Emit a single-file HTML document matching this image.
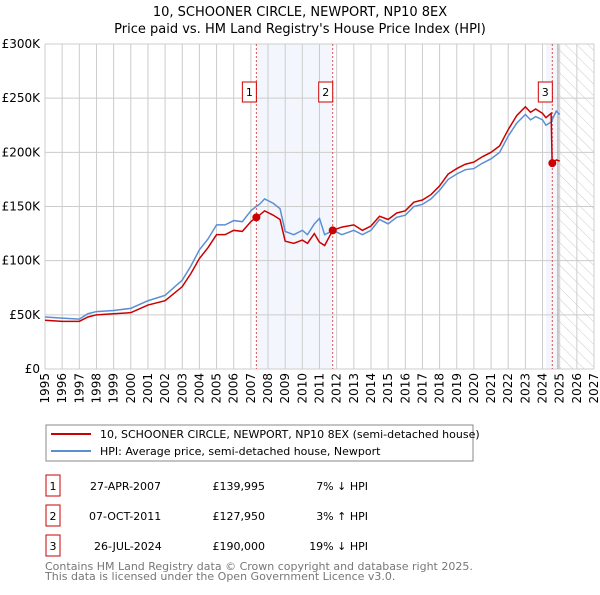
<!DOCTYPE html>
<html><head><meta charset="utf-8"><style>
body{margin:0;background:#fff;font-family:"Liberation Sans","DejaVu Sans",sans-serif;}
svg text{font-family:"DejaVu Sans","Liberation Sans",sans-serif;}
</style></head><body>
<svg id="c" width="600" height="590" xmlns="http://www.w3.org/2000/svg">
<defs><pattern id="hatch" patternUnits="userSpaceOnUse" width="8" height="8" patternTransform="rotate(-45)"><line x1="0" y1="0" x2="0" y2="8" stroke="#ccc" stroke-width="1"/></pattern></defs>
<text x="300" y="16" text-anchor="middle" font-size="13">10, SCHOONER CIRCLE, NEWPORT, NP10 8EX</text>
<text x="300" y="33" text-anchor="middle" font-size="13">Price paid vs. HM Land Registry's House Price Index (HPI)</text>
<g id="plot"></g>
<g>
<rect x="46" y="425" width="427" height="36" fill="#fff" stroke="#888"/>
<line x1="51" y1="434" x2="91" y2="434" stroke="#cc0000" stroke-width="2"/>
<text x="100" y="438" font-size="11">10, SCHOONER CIRCLE, NEWPORT, NP10 8EX (semi-detached house)</text>
<line x1="51" y1="451" x2="91" y2="451" stroke="#5b8fd4" stroke-width="2"/>
<text x="100" y="455" font-size="11">HPI: Average price, semi-detached house, Newport</text>
</g>
<g font-size="11">
<rect x="46" y="475" width="14" height="21" fill="#fff" stroke="#cc0000"/><text x="53" y="490" text-anchor="middle">1</text>
<text x="90" y="490">27-APR-2007</text><text x="265" y="490" text-anchor="end">£139,995</text><text x="368" y="490" text-anchor="end">7% ↓ HPI</text>
<rect x="46" y="505" width="14" height="21" fill="#fff" stroke="#cc0000"/><text x="53" y="520" text-anchor="middle">2</text>
<text x="89" y="520">07-OCT-2011</text><text x="265" y="520" text-anchor="end">£127,950</text><text x="368" y="520" text-anchor="end">3% ↑ HPI</text>
<rect x="46" y="535" width="14" height="21" fill="#fff" stroke="#cc0000"/><text x="53" y="550" text-anchor="middle">3</text>
<text x="94" y="550">26-JUL-2024</text><text x="265" y="550" text-anchor="end">£190,000</text><text x="368" y="550" text-anchor="end">19% ↓ HPI</text>
</g>
<text x="45" y="570" font-size="11" fill="#777">Contains HM Land Registry data © Crown copyright and database right 2025.</text>
<text x="45" y="580" font-size="11" fill="#777">This data is licensed under the Open Government Licence v3.0.</text>
</svg>
<script>
const yTicks=[0,50,100,150,200,250,300];
const yLabels=["£0","£50K","£100K","£150K","£200K","£250K","£300K"];
const years=[1995,1996,1997,1998,1999,2000,2001,2002,2003,2004,2005,2006,2007,2008,2009,2010,2011,2012,2013,2014,2015,2016,2017,2018,2019,2020,2021,2022,2023,2024,2025,2026,2027];
const hpiDates=[1995,1996,1997,1997.5,1998,1999,2000,2001,2002,2003,2003.5,2004,2004.5,2005,2005.5,2006,2006.5,2007,2007.3,2007.5,2007.8,2008.3,2008.7,2009,2009.5,2010,2010.3,2010.7,2011,2011.3,2011.8,2012.3,2013,2013.5,2014,2014.5,2015,2015.5,2016,2016.5,2017,2017.5,2018,2018.5,2019,2019.5,2020,2020.5,2021,2021.5,2022,2022.5,2023,2023.3,2023.6,2024,2024.2,2024.5,2024.8,2025];
const hpiValues=[48,47,46,51,53,54,56,63,68,82,95,110,120,133,133,137,136,146,150,152,157,153,148,127,124,128,124,134,139,124,128,124,128,124,128,138,134,140,142,150,152,157,165,175,180,184,185,190,194,200,215,227,235,230,233,230,225,228,238,235];
const priceDates=[1995,1996,1997,1997.5,1998,1999,2000,2001,2002,2003,2003.5,2004,2004.5,2005,2005.5,2006,2006.5,2007,2007.3,2007.5,2007.8,2008.3,2008.7,2009,2009.5,2010,2010.3,2010.7,2011,2011.3,2011.77,2012.3,2013,2013.5,2014,2014.5,2015,2015.5,2016,2016.5,2017,2017.5,2018,2018.5,2019,2019.5,2020,2020.5,2021,2021.5,2022,2022.5,2023,2023.3,2023.6,2024,2024.2,2024.5,2024.56,2024.8,2025];
const priceValues=[45,44,44,48,50,51,52,59,63,76,88,102,112,124,124,128,127,136,140,142,146,142,138,118,116,119,116,125,117,114,128,131,133,128,132,141,138,144,146,154,156,161,169,180,185,189,191,196,200,206,221,234,242,237,240,236,232,236,190,193,192];
const saleDates=[2007.32,2011.77,2024.57];
const saleValues=[139.995,127.95,190];
const saleLabels=["1","2","3"];
const X0=45,X1=594,Y0=369,Y1=44;
const x=d=>X0+(d-1995)/(2027-1995)*(X1-X0);
const y=v=>Y0-v/300*(Y0-Y1);
const NS="http://www.w3.org/2000/svg";
const g=document.getElementById('plot');
function mk(t,a){const e=document.createElementNS(NS,t);for(const k in a)e.setAttribute(k,a[k]);g.appendChild(e);return e;}
let e;
e=mk('rect',{x:x(saleDates[0]),y:Y1,width:x(saleDates[1])-x(saleDates[0]),height:Y0-Y1,fill:'#eef3fc',opacity:0.7});


e=mk('rect',{x:x(2024.2),y:Y1,width:x(2024.9)-x(2024.2),height:Y0-Y1,fill:'#eef3fc',opacity:0.7});


e=mk('rect',{x:x(2024.9),y:Y1,width:X1-x(2024.9),height:Y0-Y1,fill:'url(#hatch)'});


years.forEach((yr,i)=>{
 e=mk('line',{x1:x(yr),x2:x(yr),y1:Y1,y2:Y0,stroke:'#ccc','stroke-width':1});
 
 
 e=mk('text',{x:0,y:0,'font-size':12,'text-anchor':'end',transform:`translate(${x(yr)+4},${Y0+4}) rotate(-90)`});
 e.textContent=yr;
 
 
});
yTicks.forEach((v,i)=>{
 e=mk('line',{x1:X0,x2:X1,y1:y(v),y2:y(v),stroke:'#ccc','stroke-width':1});
 
 
 e=mk('text',{x:X0-5,y:y(v)+4,'font-size':12,'text-anchor':'end'});
 e.textContent=yLabels[i];
 
 
});
e=mk('line',{x1:x(2024.9),x2:x(2024.9),y1:Y1,y2:Y0,stroke:'#999','stroke-width':1});


saleDates.forEach((d,i)=>{
 e=mk('line',{x1:x(d),x2:x(d),y1:Y1,y2:Y0,stroke:'#e05050','stroke-width':1,'stroke-dasharray':'2,2'});
 
 
});
e=mk('polyline',{points:hpiDates.map((d,i)=>x(d)+','+y(hpiValues[i])).join(' '),fill:'none',stroke:'#5b8fd4','stroke-width':1.5});


e=mk('polyline',{points:priceDates.map((d,i)=>x(d)+','+y(priceValues[i])).join(' '),fill:'none',stroke:'#cc0000','stroke-width':1.5});


saleDates.forEach((d,i)=>{
 e=mk('circle',{cx:x(d),cy:y(saleValues[i]),r:4,fill:'#cc0000'});
 
 
 e=mk('rect',{x:x(d)-14,y:82,width:14,height:20,fill:'#fff',stroke:'#cc0000'});
 
 
 e=mk('text',{x:x(d)-7,y:96,'font-size':11,'text-anchor':'middle'});
 e.textContent=saleLabels[i];
 
 
});
</script>
</body></html>
